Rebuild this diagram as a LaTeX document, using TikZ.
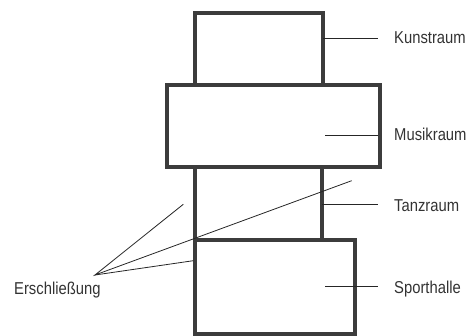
\documentclass[tikz,border=0pt]{standalone}
\usepackage{fontspec}
\setmainfont{Liberation Sans}[FakeStretch=0.86]
\usepackage{xcolor}
\usepackage{tikz}

\definecolor{wallgray}{HTML}{3C3C3C}
\tikzset{
  room/.style={draw=wallgray, line width=4pt, rectangle, inner sep=0pt, outer sep=0pt},
  lbl/.style={inner sep=0pt, anchor=base west, font=\fontsize{17.2}{20}\selectfont, text=black!80},
  leader/.style={draw=black!85, line width=0.8pt}
}

\begin{document}
\begin{tikzpicture}[x=1pt, y=-1pt]
      \useasboundingbox (0,0) rectangle (471,336);
      % rooms
      \node[room, minimum width=128pt, minimum height=72pt] (kunst) at (258.5,49) {};
      \node[room, minimum width=127.5pt, minimum height=72.5pt] (tanz) at (258.25,203.75) {};
      \node[room, minimum width=160.5pt, minimum height=94.5pt] (sport) at (274.75,287.25) {};
      \node[room, minimum width=212.5pt, minimum height=82.5pt] (musik) at (273.25,126.25) {};
      % labels
      \node[lbl] (lkunst) at (394,44) {Kunstraum};
      \node[lbl] (lmusik) at (394,140.5) {Musikraum};
      \node[lbl] (ltanz) at (394,211.5) {Tanzraum};
      \node[lbl] (lsport) at (394,294) {Sporthalle};
      \node[lbl] (lersch) at (14,294.5) {Erschließung};
      \coordinate (m0) at (325,135);
      \coordinate (s0) at (325,286.5);
      \coordinate (ej) at (95,275);
      \coordinate (e1) at (183.3,204.3);
      \coordinate (e2) at (351.7,180.7);
      \coordinate (e3) at (193.3,260.7);
      % leaders
      \draw[leader] (kunst.east |- 0,38) -- ([xshift=-16pt]lkunst.west |- 0,38);
      \draw[leader] (m0) -- ([xshift=-16pt]lmusik.west |- m0);
      \draw[leader] (tanz.east |- 0,204.3) -- ([xshift=-16pt]ltanz.west |- 0,204.3);
      \draw[leader] (s0) -- ([xshift=-16pt]lsport.west |- s0);
      \draw[leader] (e1) -- (ej) -- (e2);
      \draw[leader] (ej) -- (e3);
    \end{tikzpicture}
\end{document}
